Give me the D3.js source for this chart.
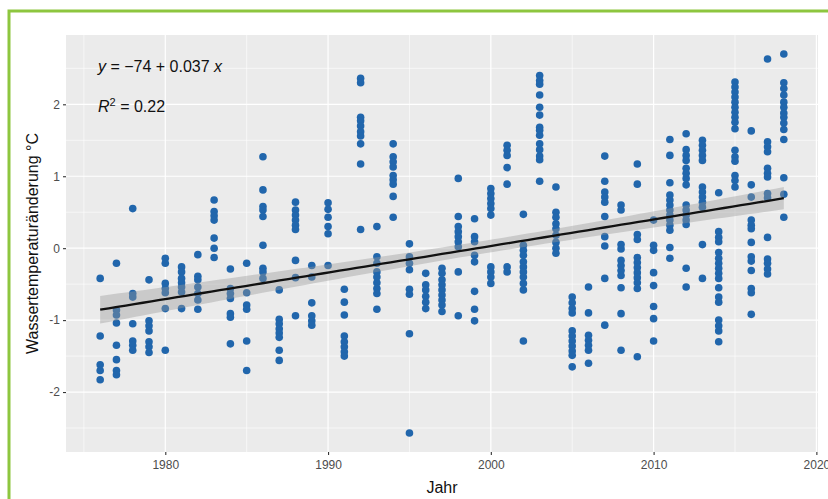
<!DOCTYPE html>
<html>
<head>
<meta charset="utf-8">
<script src="https://cdn.jsdelivr.net/npm/d3@7"></script>
<style>
  html, body { margin: 0; padding: 0; background: #ffffff; }
  svg { display: block; font-family: "Liberation Sans", Arial, sans-serif; }
</style>
</head>
<body>
<svg id="chart" width="828" height="499"></svg>
<script>
// Yearly water temperature anomalies (°C), several measurements per year
const years = [1976, 1977, 1978, 1979, 1980, 1981, 1982, 1983, 1984, 1985,
  1986, 1987, 1988, 1989, 1990, 1991, 1992, 1993, 1994, 1995, 1996, 1997,
  1998, 1999, 2000, 2001, 2002, 2003, 2004, 2005, 2006, 2007, 2008, 2009,
  2010, 2011, 2012, 2013, 2014, 2015, 2016, 2017, 2018];

const anomalies = [
  [-0.42, -1.22, -1.62, -1.70, -1.83],
  [-0.21, -0.86, -0.93, -1.04, -1.35, -1.55, -1.70, -1.76],
  [0.55, -0.63, -0.68, -1.05, -1.29, -1.35, -1.42],
  [-0.44, -1.01, -1.08, -1.15, -1.30, -1.37, -1.45],
  [-0.14, -0.21, -0.49, -0.56, -0.62, -0.84, -1.42],
  [-0.26, -0.33, -0.42, -0.48, -0.54, -0.61, -0.84],
  [-0.09, -0.39, -0.44, -0.54, -0.63, -0.72, -0.85],
  [0.67, 0.51, 0.45, 0.39, 0.14, 0.0, -0.13],
  [-0.29, -0.56, -0.63, -0.70, -0.91, -0.96, -1.33],
  [-0.21, -0.62, -0.79, -0.85, -1.29, -1.70],
  [1.27, 0.81, 0.58, 0.53, 0.44, 0.04, -0.28, -0.33, -0.42],
  [-0.58, -0.99, -1.05, -1.12, -1.18, -1.24, -1.42, -1.56],
  [0.64, 0.53, 0.46, 0.39, 0.32, 0.26, -0.17, -0.41, -0.94],
  [-0.24, -0.40, -0.76, -0.94, -1.01, -1.07],
  [0.63, 0.54, 0.43, 0.30, 0.20, -0.24],
  [-0.57, -0.75, -0.93, -1.22, -1.30, -1.37, -1.44, -1.50],
  [2.36, 2.30, 1.82, 1.77, 1.70, 1.62, 1.56, 1.45, 1.17, 0.26],
  [0.30, -0.12, -0.21, -0.33, -0.40, -0.48, -0.56, -0.63, -0.85],
  [1.45, 1.27, 1.20, 1.13, 1.01, 0.95, 0.89, 0.72, 0.43],
  [0.06, -0.12, -0.21, -0.30, -0.57, -0.64, -1.19, -2.57],
  [-0.35, -0.51, -0.58, -0.67, -0.75, -0.84],
  [-0.28, -0.35, -0.44, -0.51, -0.58, -0.65, -0.72, -0.79, -0.88],
  [0.97, 0.44, 0.30, 0.23, 0.16, 0.09, 0.02, -0.33, -0.94],
  [0.41, 0.16, 0.09, -0.10, -0.19, -0.60, -0.85, -1.01],
  [0.83, 0.76, 0.69, 0.62, 0.55, 0.46, -0.26, -0.33, -0.40, -0.49],
  [1.43, 1.36, 1.29, 1.12, 0.89, -0.26, -0.33],
  [0.47, 0.04, -0.03, -0.10, -0.19, -0.26, -0.33, -0.40, -0.49, -0.58, -1.29],
  [2.40, 2.33, 2.28, 2.13, 1.96, 1.85, 1.68, 1.64, 1.57, 1.45, 1.37, 1.28, 1.23, 0.93],
  [0.85, 0.50, 0.43, 0.34, 0.27, 0.18, 0.08, 0.0, -0.07],
  [-0.68, -0.76, -0.84, -0.90, -1.15, -1.22, -1.29, -1.36, -1.43, -1.49, -1.65],
  [-0.54, -0.90, -1.21, -1.28, -1.35, -1.42, -1.60],
  [1.28, 0.93, 0.78, 0.71, 0.64, 0.44, 0.16, 0.03, -0.42, -1.07],
  [0.60, 0.53, 0.05, -0.01, -0.17, -0.24, -0.31, -0.38, -0.55, -0.91, -1.42],
  [1.17, 0.89, 0.19, 0.12, -0.13, -0.20, -0.27, -0.34, -0.41, -0.48, -0.56, -1.51],
  [0.39, 0.04, -0.03, -0.34, -0.52, -0.81, -0.98, -1.29],
  [1.51, 1.29, 0.91, 0.74, 0.67, 0.60, 0.53, 0.46, 0.39, 0.32, 0.25, 0.01, -0.14],
  [1.59, 1.37, 1.29, 1.22, 1.11, 1.04, 0.97, 0.88, 0.60, 0.53, 0.46, 0.39, 0.33, -0.28, -0.54],
  [1.50, 1.43, 1.36, 1.29, 1.22, 0.85, 0.78, 0.71, 0.64, 0.57, 0.05, -0.42],
  [0.77, 0.23, 0.15, 0.09, -0.06, -0.14, -0.21, -0.28, -0.35, -0.42, -0.55, -0.68, -0.75, -1.00, -1.08, -1.15, -1.30],
  [2.31, 2.24, 2.17, 2.10, 2.03, 1.96, 1.89, 1.82, 1.75, 1.66, 1.36, 1.27, 1.21, 1.01, 0.94, 0.85],
  [1.63, 0.88, 0.71, 0.39, 0.32, 0.27, 0.08, -0.12, -0.18, -0.31, -0.56, -0.62, -0.92],
  [2.63, 1.48, 1.41, 1.34, 1.11, 1.04, 0.99, 0.76, 0.70, 0.15, -0.15, -0.21, -0.29, -0.36],
  [2.70, 2.30, 2.22, 2.13, 2.03, 1.96, 1.88, 1.82, 1.74, 1.65, 1.51, 0.98, 0.75, 0.43]
];

// Linear trend (anomaly ~ year) and its fit statistics
const fitIntercept = -73.77;
const fitSlope = 0.0369;
const fitR2 = 0.22;

const xTicks = [1980, 1990, 2000, 2010, 2020];
const xTickLabels = ["1980", "1990", "2000", "2010", "2020"];
const yTicks = [-2, -1, 0, 1, 2];
const yTickLabels = ["-2", "-1", "0", "1", "2"];

const xTitle = "Jahr";
const yTitle = "Wassertemperaturänderung °C";

// ---- layout ----
const svg = d3.select("#chart");
const panel = { left: 66, right: 818, top: 35, bottom: 452 };

const points = [];
years.forEach((yr, i) => anomalies[i].forEach(v => points.push({ x: yr, y: v })));

// ggplot-like 5% expansion of the data range
const expand = (ext) => { const p = (ext[1] - ext[0]) * 0.05; return [ext[0] - p, ext[1] + p]; };
const x = d3.scaleLinear().domain(expand(d3.extent(points, d => d.x))).range([panel.left, panel.right]);
const y = d3.scaleLinear().domain(expand(d3.extent(points, d => d.y))).range([panel.bottom, panel.top]);

// green frame of the figure box
svg.append("rect")
  .attr("x", 9).attr("y", 11).attr("width", 900).attr("height", 600)
  .attr("fill", "none").attr("stroke", "#8dc63f").attr("stroke-width", 3);

// panel background
svg.append("rect")
  .attr("x", panel.left).attr("y", panel.top)
  .attr("width", panel.right - panel.left).attr("height", panel.bottom - panel.top)
  .attr("fill", "#ebebeb");

const grid = svg.append("g");
const xMinor = d3.range(1975, 2020, 10).filter(v => x(v) >= panel.left);
const yMinor = d3.range(-2.5, 3, 1).filter(v => y(v) >= panel.top && y(v) <= panel.bottom);

grid.selectAll(".ymin").data(yMinor).join("line")
  .attr("x1", panel.left).attr("x2", panel.right)
  .attr("y1", d => y(d)).attr("y2", d => y(d))
  .attr("stroke", "#ffffff").attr("stroke-width", 0.6);
grid.selectAll(".xmin").data(xMinor).join("line")
  .attr("y1", panel.top).attr("y2", panel.bottom)
  .attr("x1", d => x(d)).attr("x2", d => x(d))
  .attr("stroke", "#ffffff").attr("stroke-width", 0.6);
grid.selectAll(".ymaj").data(yTicks).join("line")
  .attr("x1", panel.left).attr("x2", panel.right)
  .attr("y1", d => y(d)).attr("y2", d => y(d))
  .attr("stroke", "#ffffff").attr("stroke-width", 1.2);
grid.selectAll(".xmaj").data(xTicks).join("line")
  .attr("y1", panel.top).attr("y2", panel.bottom)
  .attr("x1", d => x(d)).attr("x2", d => x(d))
  .attr("stroke", "#ffffff").attr("stroke-width", 1.2);

// points
svg.append("g").selectAll("circle").data(points).join("circle")
  .attr("cx", d => x(d.x)).attr("cy", d => y(d.y))
  .attr("r", 3.8).attr("fill", "#2166ac");

// confidence band of the trend line (95 %)
const n = points.length;
const xbar = d3.mean(points, d => d.x);
const sxx = d3.sum(points, d => (d.x - xbar) ** 2);
const resid = d3.sum(points, d => (d.y - (fitIntercept + fitSlope * d.x)) ** 2);
const sigma = Math.sqrt(resid / (n - 2));
const tq = 1.966;
const xs = d3.range(0, 81).map(i => 1976 + (2018 - 1976) * i / 80);
const band = xs.map(v => {
  const fit = fitIntercept + fitSlope * v;
  const se = sigma * Math.sqrt(1 / n + (v - xbar) ** 2 / sxx);
  return { x: v, lo: fit - tq * se, hi: fit + tq * se, fit };
});

svg.append("path").datum(band)
  .attr("d", d3.area().x(d => x(d.x)).y0(d => y(d.lo)).y1(d => y(d.hi)))
  .attr("fill", "#999999").attr("fill-opacity", 0.4);

svg.append("path").datum(band)
  .attr("d", d3.line().x(d => x(d.x)).y(d => y(d.fit)))
  .attr("fill", "none").attr("stroke", "#111111").attr("stroke-width", 2.3);

// axes
const xAxis = d3.axisBottom(x).tickValues(xTicks).tickFormat((d, i) => xTickLabels[i])
  .tickSize(3).tickPadding(3);
const yAxis = d3.axisLeft(y).tickValues(yTicks).tickFormat((d, i) => yTickLabels[i])
  .tickSize(3).tickPadding(3);

const gx = svg.append("g").attr("transform", `translate(0,${panel.bottom})`).call(xAxis);
const gy = svg.append("g").attr("transform", `translate(${panel.left},0)`).call(yAxis);
[gx, gy].forEach(g => {
  g.select(".domain").remove();
  g.selectAll(".tick line").attr("stroke", "#333333").attr("stroke-width", 1.1);
  g.selectAll(".tick text").attr("fill", "#4d4d4d")
    .style("font-size", "12px").style("font-family", "'Liberation Sans', Arial, sans-serif");
});
gx.selectAll(".tick text").attr("dy", "0.95em");

// axis titles
svg.append("text")
  .attr("x", (panel.left + panel.right) / 2).attr("y", 493)
  .attr("text-anchor", "middle").attr("fill", "#111111")
  .style("font-size", "16px").text(xTitle);

svg.append("text")
  .attr("transform", `translate(38,${(panel.top + panel.bottom) / 2}) rotate(-90)`)
  .attr("text-anchor", "middle").attr("fill", "#111111")
  .style("font-size", "16px").text(yTitle);

// regression equation and R²
const fmt2 = d3.format(".2r");
const eq = svg.append("text").attr("x", 98).attr("y", 72)
  .attr("fill", "#111111").style("font-size", "16px");
eq.append("tspan").style("font-style", "italic").text("y");
eq.append("tspan").text(` = ${fmt2(fitIntercept)} + ${fmt2(fitSlope)} `);
eq.append("tspan").style("font-style", "italic").text("x");

const r2 = svg.append("text").attr("x", 98).attr("y", 112)
  .attr("fill", "#111111").style("font-size", "16px");
r2.append("tspan").style("font-style", "italic").text("R");
r2.append("tspan").attr("dy", -6).style("font-size", "11px").text("2");
r2.append("tspan").attr("dy", 6).text(` = ${fitR2.toFixed(2)}`);
</script>
</body>
</html>
